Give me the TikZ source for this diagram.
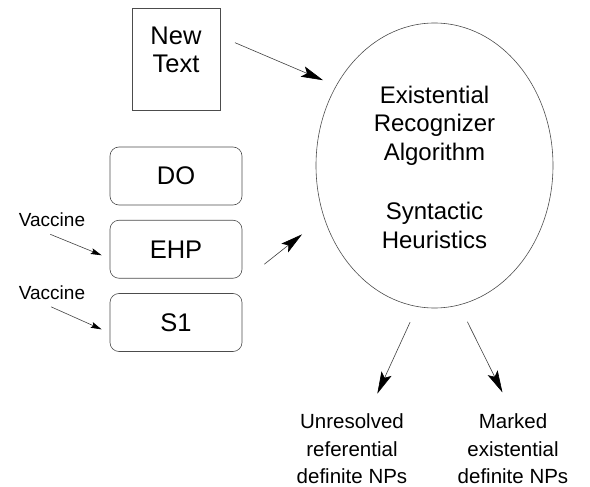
\documentclass[tikz,border=0pt]{standalone}
\usepackage{fontspec}
\setmainfont{Liberation Sans}
\usetikzlibrary{positioning,shapes.geometric,arrows.meta}

\begin{document}
\begin{tikzpicture}[x=1pt,y=-1pt,node distance=73.25pt,on grid,line width=0.6pt,
    textbox/.style={draw=black!70,minimum width=88pt,minimum height=102pt,align=center,
      font=\fontsize{25.5}{28}\selectfont,text depth=18pt},
    slot/.style={draw=black!70,rounded corners=9pt,minimum width=132pt,minimum height=58pt,
      font=\fontsize{25.5}{28}\selectfont},
    engine/.style={draw=black!70,ellipse,minimum width=237pt,minimum height=285pt,inner sep=0pt},
    inner/.style={align=center,inner sep=0pt,font=\fontsize{24}{28.5}\selectfont},
    tag/.style={inner sep=0pt,font=\fontsize{19}{22}\selectfont},
    result/.style={align=center,inner sep=0pt,font=\fontsize{20.5}{27.5}\selectfont},
    bigtip/.style={draw=black!75,-{Stealth[length=22pt,width=11pt,inset=4.5pt,black]}},
    smalltip/.style={draw=black!75,-{Stealth[length=11pt,width=6pt,inset=2pt,black]}}]
    \useasboundingbox (0,0) rectangle (590,487);

    \node[textbox] (newtext) at (176,59) {New\\Text};
    \node[slot] (do) at (176,176) {DO};
    \node[slot] (ehp) [below=of do] {EHP};
    \node[slot] (s1) [below=of ehp] {S1};
    \node[tag] (vac1) at (52,220) {Vaccine};
    \node[tag] (vac2) at (52,293) {Vaccine};

    \node[engine] (alg) at (434.5,165.5) {};
    \node[inner] (title) at ([yshift=40pt]alg.center) {Existential\\Recognizer\\Algorithm};
    \node[inner] (heur) at ([yshift=-60pt]alg.center) {Syntactic\\Heuristics};

    \node[result] (unres) at (352,449) {Unresolved\\referential\\definite NPs};
    \node[result] (marked) at (513,449) {Marked\\existential\\definite NPs};
    \coordinate (feed) at ([shift={(22,15)}]ehp.east);

    \draw[bigtip,shorten <=16pt,shorten >=14pt] (newtext.27) -- (alg.141.3);
    \draw[bigtip,shorten >=27.7pt] (feed) -- (alg.205);
    \draw[smalltip,shorten <=18.6pt,shorten >=8.7pt] (vac1.201) -- (ehp.188);
    \draw[smalltip,shorten <=16pt,shorten >=8.8pt] (vac2.205.3) -- (s1.189.6);
    \draw[bigtip,shorten <=17pt,shorten >=22pt] (alg.263.6) -- (unres);
    \draw[bigtip,shorten <=18.5pt,shorten >=23.7pt] (alg.280) -- (marked.north);
\end{tikzpicture}
\end{document}
